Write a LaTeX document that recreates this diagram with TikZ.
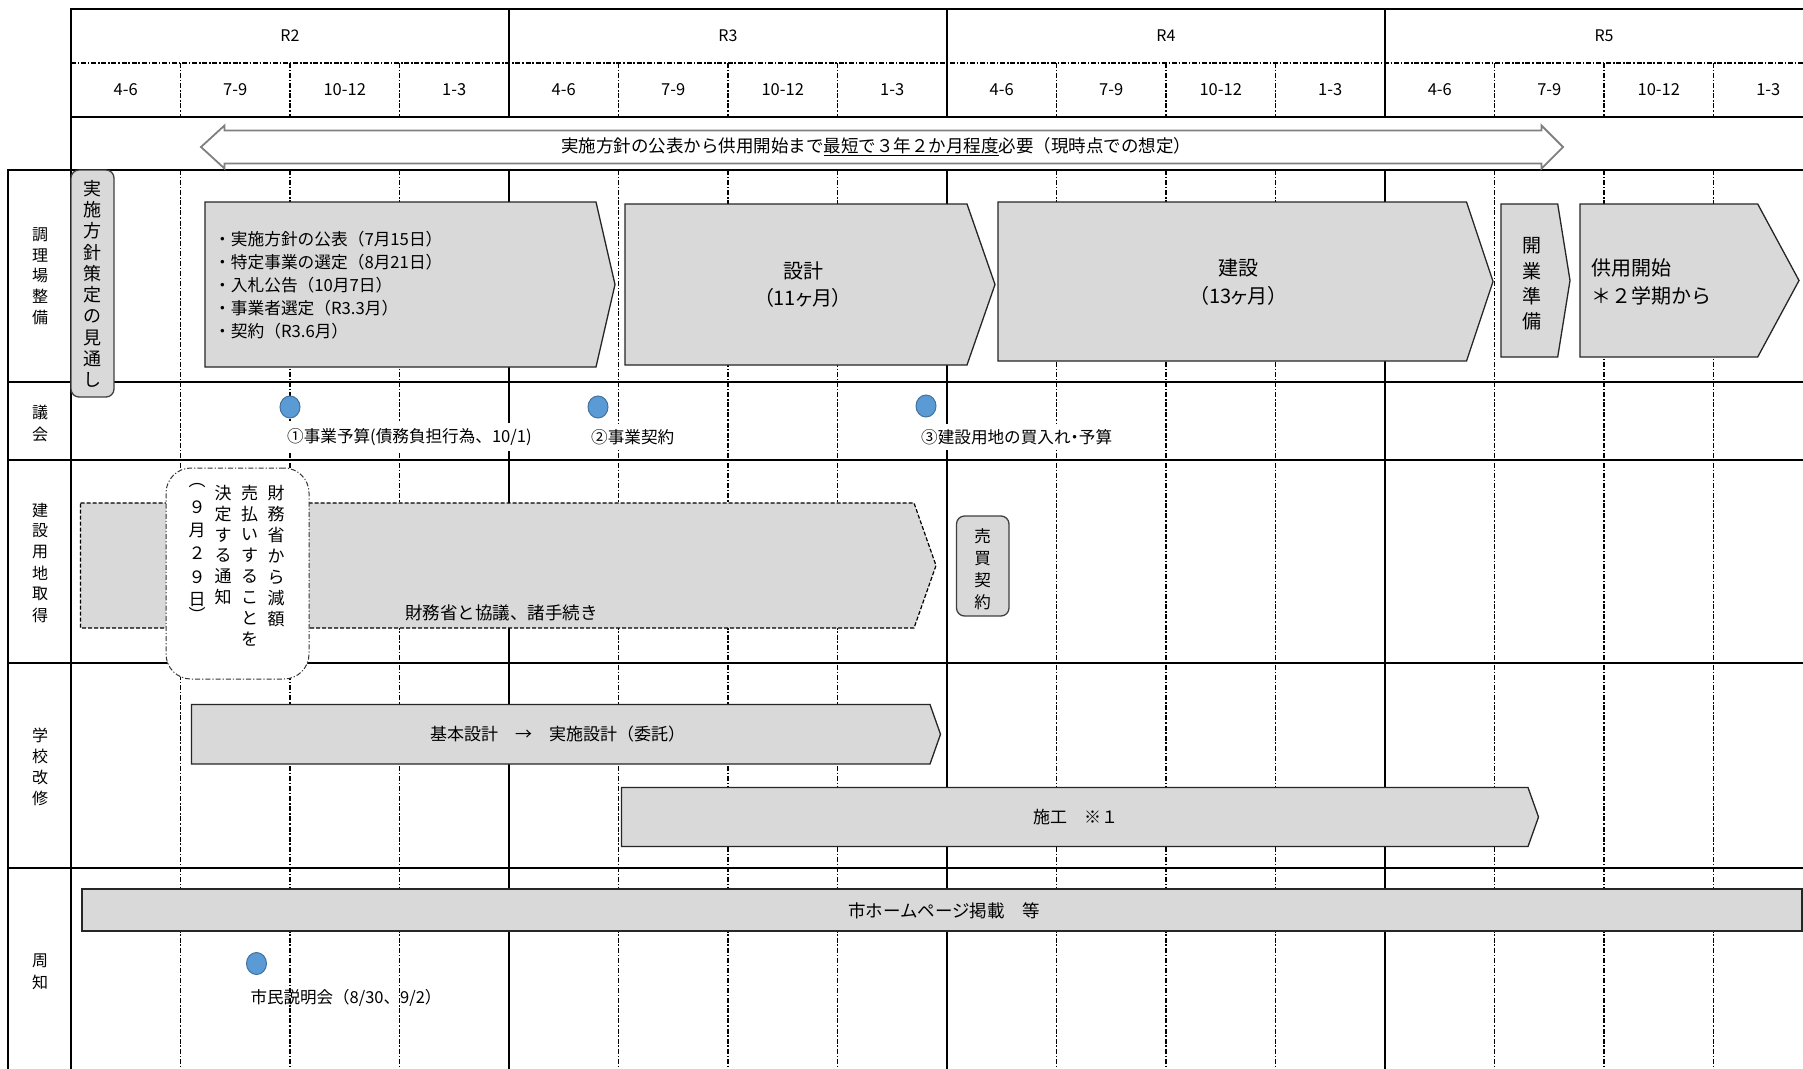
\documentclass[tikz,border=0pt]{standalone}
\usepackage{fontspec}
\setmainfont{Noto Sans CJK JP}
\newfontfamily\jpp[RawFeature={+palt}]{Noto Sans CJK JP}
\usetikzlibrary{shapes.geometric}
\definecolor{boxgray}{HTML}{D9D9D9}
\definecolor{dotblue}{HTML}{5B9BD5}
\definecolor{dotedge}{HTML}{41719C}
\definecolor{arrgray}{HTML}{808080}
\newcommand{\jfs}[2]{\fontsize{#1}{#2}\selectfont}
% pentagon bar: [style]{x1}{y1}{x shoulder}{x tip}{y2}
\newcommand{\pentbar}[6][pentbox]{\draw[#1] (#2,#3) -- (#4,#3) -- (#5,{(#3+#6)/2}) -- (#4,#6) -- (#2,#6) -- cycle;}
% vertical text: {name}{x}{y of first char}{pitch}{size}{chars}
\newcommand{\vtext}[6]{\foreach \vch [count=\i from 0] in {#6} {\node[lbl, font=\jfs{#5}{#5}] (#1\i) at (#2,{#3+#4*\i}) {\vch};}}
\begin{document}
\begin{tikzpicture}[x=1pt,y=-1pt,
  gridsolid/.style={line width=2pt, black, line cap=rect},
  griddash/.style={line width=1.6pt, black, dash pattern=on 5pt off 1.8pt on 1.5pt off 1.8pt},
  pentbox/.style={fill=boxgray, draw=black!85, line width=1.3pt},
  dashpent/.style={fill=boxgray, draw=black, line width=1.2pt, dash pattern=on 4pt off 2pt},
  grayrbox/.style={fill=boxgray, draw=black!75, line width=1.3pt, rounded corners=8pt, inner sep=0pt},
  dotrbox/.style={fill=white, draw=black!80, line width=1pt, rounded corners=25pt, inner sep=0pt, dash pattern=on 5pt off 2pt on 1.2pt off 2pt},
  bluedot/.style={ellipse, fill=dotblue, draw=dotedge, line width=1pt, minimum width=20pt, minimum height=22pt, inner sep=0pt},
  lbl/.style={inner sep=0pt, text=black},
  glbl/.style={fill=white, inner ysep=5pt, inner xsep=1pt, anchor=west, text=black, font=\jfs{16.6}{16.6}}]
\fill[white] (0,0) rectangle (1803,1068);
\useasboundingbox (0,0) rectangle (1803,1068);

% ---------- grid ----------
\draw[griddash] (71,63) -- (1803,63);
\foreach \k in {1,2,3,5,6,7,9,10,11,13,14,15} {
  \draw[griddash] ({71+109.5*\k},63) -- ({71+109.5*\k},117);
  \draw[griddash] ({71+109.5*\k},170) -- ({71+109.5*\k},1068);
}
\foreach \k in {4,8,12} {
  \draw[gridsolid] ({71+109.5*\k},9) -- ({71+109.5*\k},117);
  \draw[gridsolid] ({71+109.5*\k},170) -- ({71+109.5*\k},1068);
}
\draw[gridsolid] (71,9) -- (1803,9);
\draw[gridsolid] (71,117) -- (1803,117);
\draw[gridsolid] (71,9) -- (71,1068);
\draw[gridsolid] (8,170) -- (8,1068);
\foreach \yy in {170,382,460,663,868} \draw[gridsolid] (8,\yy) -- (1803,\yy);

% ---------- header ----------
\foreach \k/\yt in {0/R2,1/R3,2/R4,3/R5}
  \node[lbl, font=\jfs{16}{16}] (yr\k) at ({71+438*\k+219},36) {\yt};
\foreach \qt [count=\k from 0] in {4-6,7-9,10-12,1-3,4-6,7-9,10-12,1-3,4-6,7-9,10-12,1-3,4-6,7-9,10-12,1-3}
  \node[lbl, font=\jfs{16.5}{16.5}] (q\k) at ({71+109.5*\k+54.75},90) {\qt};

\draw[fill=white, draw=arrgray, line width=1.8pt] (201,147) -- (224.5,125.5) -- (224.5,130.5) -- (1541.5,130.5) -- (1541.5,125.5) -- (1563,147) -- (1541.5,168.5) -- (1541.5,163.5) -- (224.5,163.5) -- (224.5,168.5) -- cycle;
\node[lbl, font=\jfs{17.5}{17.5}] (span) at (876,147) {実施方針の公表から供用開始まで\underline{最短で３年２か月程度}必要（現時点での想定）};

% ---------- row labels ----------
\vtext{chouri}{40}{235}{20.5}{16}{調,理,場,整,備}
\vtext{gikai}{40}{412}{22}{16}{議,会}
\vtext{youchi}{40}{510}{21}{16}{建,設,用,地,取,得}
\vtext{gakkou}{40}{735}{21}{16}{学,校,改,修}
\vtext{shuchi}{40}{961}{21}{16}{周,知}

% ---------- 調理場整備 ----------
\node[grayrbox, minimum width=43pt, minimum height=227pt] (mitoshi) at (92.5,283.5) {};
\vtext{mt}{92.5}{188.5}{21.3}{18}{実,施,方,針,策,定,の,見,通,し}

\pentbar{205}{202}{596}{615}{367}
\node[lbl, anchor=west, align=left, font=\jfs{16.7}{23}] (kouhyou) at (214,285.5) {・実施方針の公表（7月15日）\\・特定事業の選定（8月21日）\\・入札公告（10月7日）\\・事業者選定（R3.3月）\\・契約（R3.6月）};

\pentbar{625}{204}{967}{995}{365}
\node[lbl, align=center, font=\jfs{20}{27}] (sekkei) at (803,285) {設計\\{\jpp（11ヶ月）}};

\pentbar{998}{202}{1466.5}{1493}{361}
\node[lbl, align=center, font=\jfs{20}{28}] (kensetsu) at (1238.5,282) {建設\\{\jpp（13ヶ月）}};

\pentbar{1501}{204}{1557.7}{1570}{357}
\vtext{kaigyo}{1532}{246}{25}{19}{開,業,準,備}

\pentbar{1580}{204}{1757.7}{1799}{357}
\node[lbl, anchor=west, align=left, font=\jfs{20}{28}] (kyoyo) at (1591,282) {供用開始\\＊２学期から};

% ---------- 議会 ----------
\node[bluedot] (d1) at (290,407) {};
\node[bluedot] (d2) at (598,407) {};
\node[bluedot] (d3) at (926,406) {};
\node[glbl] (g1) at (286,437) {①事業予算(債務負担行為、10/1)};
\node[glbl] (g2) at (590,437) {②事業契約};
\node[glbl] (g3) at (920,437) {③建設用地の買入れ{\jpp ・}予算};

% ---------- 建設用地取得 ----------
\pentbar[dashpent]{80.5}{503}{914}{936}{628}
\node[lbl, font=\jfs{17.5}{17.5}] (kyougi) at (501.5,613) {財務省と協議、諸手続き};
\node[dotrbox, minimum width=143pt, minimum height=211pt] (tsuchi) at (237.5,573.5) {};
\vtext{tA}{276}{493.3}{21}{17}{財,務,省,か,ら,減,額}
\vtext{tB}{249.5}{493.3}{20.8}{17}{売,払,い,す,る,こ,と,を}
\vtext{tC}{223}{493.3}{20.8}{17}{決,定,す,る,通,知}
\foreach \vch/\yy [count=\i from 0] in {︵/486,９/507,月/530,２/553,９/577,日/600,︶/614}
  \node[lbl, font=\jfs{17}{17}] (tD\i) at (197,\yy) {\vch};
\node[grayrbox, minimum width=52.5pt, minimum height=100pt] (baibai) at (982.75,566) {};
\vtext{bb}{982.5}{536.7}{21.7}{16.5}{売,買,契,約}

% ---------- 学校改修 ----------
\pentbar{191.5}{704.5}{930}{940.5}{764}
\node[lbl, font=\jfs{17}{17}] (kihon) at (557.5,734) {基本設計　→　実施設計（委託）};
\pentbar{621.5}{787.5}{1528}{1538.5}{846.5}
\node[lbl, font=\jfs{17}{17}] (sekou) at (1075.5,817.5) {施工　※１};

% ---------- 周知 ----------
\node[draw=black!85, fill=boxgray, line width=1.3pt, minimum width=1720pt, minimum height=42pt, inner sep=0pt] (hp) at (942,910) {};
\node[lbl, font=\jfs{17.5}{17.5}] (hptxt) at (944,911) {市ホームページ掲載　等};
\node[bluedot] (d4) at (256.5,963.5) {};
\node[lbl, anchor=west, font=\jfs{16.5}{16.5}] (setsumei) at (250.5,998) {市民説明会（8/30、9/2）};
\end{tikzpicture}
\end{document}
